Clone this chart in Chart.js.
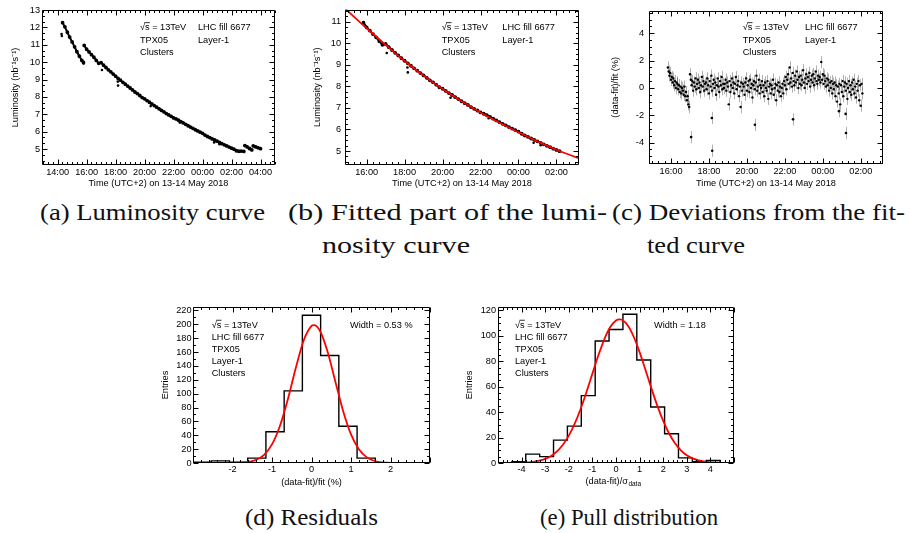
<!DOCTYPE html>
<html lang="en">
<head>
<meta charset="UTF-8">
<title>LHC fill 6677 luminosity</title>
<style>
  html, body { margin: 0; padding: 0; background: #fff; }
  body { position: relative; width: 910px; height: 533px; overflow: hidden; }
  canvas { position: absolute; }
  .cap { position: absolute; font-family: "Liberation Serif", "DejaVu Serif", serif; font-size: 23px; line-height: 24px;
         white-space: nowrap; transform-origin: 0 50%; color: #111; }
</style>
</head>
<body>
<canvas id="lumiCurve" width="285" height="195" style="left:0;top:0"></canvas>
<canvas id="lumiFit" width="289" height="195" style="left:300px;top:0"></canvas>
<canvas id="lumiDev" width="289" height="194" style="left:604px;top:0"></canvas>
<canvas id="residuals" width="292" height="196" style="left:148px;top:297px"></canvas>
<canvas id="pulls" width="291" height="196" style="left:453px;top:297px"></canvas>

<script src="https://cdn.jsdelivr.net/npm/chart.js"></script>
<script>
// ---- data (time in hours from 13 May 00:00, so 26 = 02:00 on the 14th) ----
const seg1Time = [14.34, 14.5, 14.67, 14.83, 15.0, 15.17, 15.33, 15.5, 15.67, 15.78];
const seg1Lumi = [12.27, 12.03, 11.72, 11.44, 11.16, 10.88, 10.6, 10.34, 10.1, 9.98];

// fitted range, one reading every 10 minutes from 15:50 to 02:10
const mainStart = 15 + 50 / 60;
const mainStep = 10 / 60;
const mainLumi = [10.96, 10.74, 10.59, 10.43, 10.28, 10.10, 9.93,
  9.97, 9.82, 9.69, 9.56, 9.44, 9.31,
  9.19, 9.07, 8.96, 8.84, 8.73, 8.62,
  8.51, 8.40, 8.28, 8.19, 8.08, 7.96,
  7.89, 7.79, 7.69, 7.60, 7.50, 7.41,
  7.31, 7.22, 7.14, 7.04, 6.96, 6.88,
  6.79, 6.73, 6.66, 6.58, 6.50, 6.42,
  6.34, 6.26, 6.19, 6.11, 6.04, 5.97,
  5.90, 5.80, 5.72, 5.66, 5.58, 5.52,
  5.45, 5.38, 5.31, 5.24, 5.18, 5.11,
  5.05, 4.99];
const mainTime = mainLumi.map((_, i) => mainStart + i * mainStep);

const tailTime = [26.33, 26.5, 26.67, 26.85];
const tailLumi = [4.9, 4.87, 4.88, 4.86];
const seg3Time = [26.92, 27.08, 27.24, 27.4];
const seg3Lumi = [5.2, 5.12, 5.03, 4.95];
const seg4Time = [27.5, 27.67, 27.84, 28.0];
const seg4Lumi = [5.18, 5.12, 5.07, 5.02];

const outTime = [17.06, 18.15, 18.17, 20.42, 22.43, 24.8, 25.17];
const outLumi = [9.55, 8.88, 8.65, 7.47, 6.52, 5.38, 5.27];
const earlyOutTime = [14.27, 14.29, 15.8];
const earlyOutLumi = [11.62, 11.5, 9.92];

const fitTime = [14.86, 16, 17, 18, 19, 20, 21, 22, 23, 24, 25, 26, 27.19];
const fitLumi = [11.62, 10.70, 9.93, 9.18, 8.50, 7.88, 7.31, 6.79, 6.31, 5.87, 5.45, 5.06, 4.66];

// deviations from the fit (%), one every 2.5 minutes from 15:50
const devStart = 15 + 50 / 60;
const devStep = 2.5 / 60;
const devValue = [
  1.5, 1.2, 0.9, 1.1, 0.6, 0.8, 0.4, 0.7, 0.2, 0.5, 0.0, 0.4, 0.3, -0.1, 0.2, -0.3, 0.1, -0.4, 0.0, -0.2, -0.5, 0.1, -0.6, -0.3,
  -0.9, -0.6, -1.2, -1.4, 1.0, 0.6, 0.2, 0.5, -0.2, 0.4, 0.1, 0.7, -0.1, 0.3, 0.6, 0.0, 0.4, -0.3, 0.2, 0.8, 0.1, 0.5, -0.2, 0.3,
  0.4, -0.1, 0.7, 0.2, -0.4, 0.5, 0.1, 0.9, -0.2, 0.3, 0.6, 0.0, 0.4, -0.5, 0.2, 0.7, 0.1, -0.3, 0.5, 0.2, 0.8, -0.1, 0.3, 0.0,
  0.3, 0.6, -0.2, 0.4, 0.1, -1.2, 0.5, -0.3, 0.2, 0.7, 0.0, 0.4, -0.4, 0.3, 0.8, -0.1, 0.2, 0.5, -0.6, 0.1, -1.4, 0.4, -0.2, 0.3,
  0.1, -0.5, 0.4, 0.7, -0.2, 0.2, 0.5, -0.3, 0.6, 0.0, 0.3, -0.7, 0.2, 0.5, -0.1, 0.4, 0.9, -0.2, 0.1, 0.6, -0.4, 0.2, 0.0, 0.5,
  -0.3, 0.2, -0.6, 0.4, 0.0, -0.2, 0.5, -0.8, 0.1, 0.3, -0.4, 0.2, -0.1, 0.6, -0.5, 0.0, 0.3, -0.9, 0.2, -0.2, 0.4, -0.3, 0.1, -0.6,
  0.0, 0.3, -0.4, 0.5, 0.2, 0.8, -0.1, 0.6, 1.0, 0.3, 1.5, 0.4, 0.7, 0.1, 1.1, 0.5, 0.2, 0.9, 0.4, 1.2, 0.6, 0.0, 0.8, 0.3,
  0.9, 0.2, 0.6, 1.3, 0.4, 0.0, 0.7, 1.0, 0.3, 0.8, 0.5, 1.1, 0.1, 0.6, 0.9, 0.4, 1.0, 0.2, 0.7, 1.2, 0.5, 0.3, 0.9, 0.6,
  0.8, 0.4, 1.9, 0.6, 1.0, 0.3, 0.9, 0.5, 0.1, 0.7, 0.2, 0.6, -0.2, 0.4, 0.0, 0.5, -0.4, 0.3, -0.1, 0.4, -0.6, 0.2, -1.0, 0.1,
  -0.4, 0.3, -1.2, 0.2, -0.3, 0.5, -0.6, 0.1, 0.4, -0.2, 0.3, -0.8, 0.0, 0.5, -0.3, 0.2, -0.5, 0.4, -0.1, 0.6, -0.4, 0.1, -0.7, 0.3,
  -0.2, 0.5, -0.9, 0.2, -1.3, 0.3, -0.4];
const devTime = devValue.map((_, i) => devStart + i * devStep);
const devOutTime = [17.06, 18.15, 18.17, 20.42, 22.43, 24.85, 25.2, 25.22];
const devOutValue = [-3.6, -2.2, -4.6, -2.7, -2.3, -1.7, -1.9, -3.3];
const devError = 0.45;

// residual histogram (%)
const resEdges = [-3, -2.538, -2.077, -1.615, -1.154, -0.692, -0.231, 0.231, 0.692, 1.154, 1.615, 2.077, 2.538, 3];
const resCounts = [1, 3, 1, 7, 45, 104, 213, 155, 53, 7, 0, 0, 0];
const resFitX = [-3, -2.4, -2.0, -1.8, -1.6, -1.4, -1.2, -1.0, -0.8, -0.6, -0.4, -0.2, 0.0, 0.06, 0.2, 0.4, 0.6, 0.8, 1.0, 1.2, 1.4, 1.6, 1.8, 2.0, 2.4, 3];
const resFitY = [0, 0.01, 0.1, 0.4, 1.5, 4.5, 11.8, 26.9, 53.4, 91.6, 136.6, 176.4, 197.7, 199, 192.2, 162.0, 118.4, 75.1, 41.3, 19.7, 8.1, 2.9, 0.9, 0.2, 0.01, 0];

// pull histogram
const pullEdges = [-5, -4.412, -3.824, -3.235, -2.647, -2.059, -1.471, -0.882, -0.294, 0.294, 0.882, 1.471, 2.059, 2.647, 3.235, 3.824, 4.412, 5];
const pullCounts = [0, 1, 7, 5, 18, 29, 53, 96, 105, 117, 81, 44, 23, 4, 1, 2, 0];
const pullFitX = [-5, -4.5, -4, -3.5, -3.25, -3, -2.75, -2.5, -2.25, -2, -1.75, -1.5, -1.25, -1, -0.75, -0.5, -0.25, 0, 0.15, 0.25, 0.5, 0.75, 1, 1.25, 1.5, 1.75, 2, 2.25, 2.5, 2.75, 3, 3.25, 3.5, 4, 4.5, 5];
const pullFitY = [0.01, 0.05, 0.23, 0.95, 1.78, 3.2, 5.5, 9.1, 14.3, 21.5, 30.9, 42.5, 55.9, 70.3, 84.5, 97.1, 106.7, 112.1, 113.0, 112.6, 108.1, 99.3, 87.2, 73.2, 58.7, 45.1, 33.1, 23.2, 15.6, 10.0, 6.1, 3.6, 2.0, 0.55, 0.13, 0.02];

// tick labels and texts
const curveTimeTicks = [14, 16, 18, 20, 22, 24, 26, 28];
const fitTimeTicks = [16, 18, 20, 22, 24, 26];
const curveLumiTicks = [5, 6, 7, 8, 9, 10, 11, 12, 13];
const fitLumiTicks = [5, 6, 7, 8, 9, 10, 11];
const devTicks = [-4, -2, 0, 2, 4];
const resTicksX = [-2, -1, 0, 1, 2];
const resTicksY = [0, 20, 40, 60, 80, 100, 120, 140, 160, 180, 200, 220];
const pullTicksX = [-4, -3, -2, -1, 0, 1, 2, 3, 4];
const pullTicksY = [0, 20, 40, 60, 80, 100, 120];
const infoLeft = ['√s = 13TeV', 'TPX05', 'Clusters'];
const infoRight = ['LHC fill 6677', 'Layer-1'];
const histInfo = ['√s = 13TeV', 'LHC fill 6677', 'TPX05', 'Layer-1', 'Clusters'];
const timeTitle = 'Time (UTC+2) on 13-14 May 2018';
const lumiTitle = 'Luminosity (nb⁻¹s⁻¹)';
const captionText = ['(a) Luminosity curve', '(b) Fitted part of the lumi-', 'nosity curve',
  '(c) Deviations from the fit-', 'ted curve', '(d) Residuals', '(e) Pull distribution'];
// left, middle y, width
const captionBox = [[40, 213, 225], [288, 213, 319], [322, 246, 148], [612, 213, 293], [647, 246, 98], [245, 518, 133], [540, 518, 178]];

// ---- drawing ----
const FONT = '"Liberation Sans", Arial, Helvetica, sans-serif';
Chart.defaults.font.family = FONT;
Chart.defaults.font.size = 9.2;
Chart.defaults.color = '#000';

const overlays = {};

// ROOT-like frame with inward ticks on every side, plus the text boxes
const rootFrame = {
  id: 'rootFrame',
  afterDraw(chart) {
    const o = overlays[chart.canvas.id];
    const { ctx, chartArea: a, scales: { x, y } } = chart;
    const L = Math.round(a.left) + 0.5, R = Math.round(a.right) - 0.5;
    const T = Math.round(a.top) + 0.5, B = Math.round(a.bottom) - 0.5;
    ctx.save();
    ctx.strokeStyle = '#000';
    ctx.lineWidth = 1;
    ctx.beginPath();
    ctx.rect(L, T, R - L, B - T);
    const ticks = (scale, major, minor, draw) => {
      const ratio = Math.round(major / minor);
      const k0 = Math.ceil(scale.min / minor - 1e-6), k1 = Math.floor(scale.max / minor + 1e-6);
      for (let k = k0; k <= k1; k++) {
        const p = Math.round(scale.getPixelForValue(k * minor)) + 0.5;
        draw(p, k % ratio === 0 ? 5 : 2.5);
      }
    };
    ticks(x, o.xMajor, o.xMinor, (p, len) => { ctx.moveTo(p, B); ctx.lineTo(p, B - len); ctx.moveTo(p, T); ctx.lineTo(p, T + len); });
    ticks(y, o.yMajor, o.yMinor, (p, len) => { ctx.moveTo(L, p); ctx.lineTo(L + len, p); ctx.moveTo(R, p); ctx.lineTo(R - len, p); });
    ctx.stroke();

    ctx.fillStyle = '#000';
    ctx.textBaseline = 'middle';
    ctx.textAlign = 'left';
    for (const t of o.texts) {
      ctx.font = `9.2px ${FONT}`;
      const w = ctx.measureText(t.text).width;
      let ws = 0;
      if (t.sub) { ctx.font = `6.5px ${FONT}`; ws = ctx.measureText(t.sub).width; ctx.font = `9.2px ${FONT}`; }
      const x0 = t.center ? t.x - (w + ws) / 2 : t.x;
      ctx.fillText(t.text, x0, t.y);
      if (t.text.startsWith('√')) {
        const wr = ctx.measureText('√').width, wsq = ctx.measureText('√s').width;
        ctx.fillRect(x0 + wr - 0.6, t.y - 5.2, wsq - wr + 0.8, 0.8);
      }
      if (t.sub) { ctx.font = `6.5px ${FONT}`; ctx.fillText(t.sub, x0 + w + 0.5, t.y + 3); }
    }
    ctx.restore();
  }
};

const errorBars = {
  id: 'errorBars',
  beforeDatasetsDraw(chart) {
    const o = overlays[chart.canvas.id];
    if (!o.errors) return;
    const { ctx, chartArea: a, scales: { x, y } } = chart;
    ctx.save();
    ctx.beginPath();
    ctx.rect(a.left, a.top, a.right - a.left, a.bottom - a.top);
    ctx.clip();
    ctx.strokeStyle = 'rgba(0,0,0,0.3)';
    ctx.lineWidth = 1;
    ctx.beginPath();
    for (const i of o.errors.sets) {
      for (const p of chart.data.datasets[i].data) {
        const px = Math.round(x.getPixelForValue(p.x)) + 0.5;
        ctx.moveTo(px, y.getPixelForValue(p.y + o.errors.size));
        ctx.lineTo(px, y.getPixelForValue(p.y - o.errors.size));
      }
    }
    ctx.stroke();
    ctx.restore();
  }
};

const pts = (xs, ys) => xs.map((x, i) => ({ x, y: ys[i] }));
const band = (xs, ys) => ({ data: pts(xs, ys), showLine: true, borderColor: '#000', backgroundColor: '#000', borderWidth: 2, pointRadius: 0.9, pointHoverRadius: 0 });
const dots = (xs, ys, r) => ({ data: pts(xs, ys), showLine: false, borderColor: '#000', backgroundColor: '#000', borderWidth: 0, pointRadius: r || 1.3 });
const redFit = (xs, ys) => ({ data: pts(xs, ys), showLine: true, borderColor: '#ff0000', borderWidth: 1.8, pointRadius: 0, cubicInterpolationMode: 'monotone' });
const histo = (edges, counts) => ({
  data: edges.map((e, i) => ({ x: e, y: counts[Math.min(i, counts.length - 1)] })),
  showLine: true, stepped: true, borderColor: '#000', borderWidth: 1.4, pointRadius: 0
});
const clock = v => String(((v % 24) + 24) % 24).padStart(2, '0') + ':00';

function rootChart(id, s) {
  overlays[id] = { xMajor: s.xMajor, xMinor: s.xMinor, yMajor: s.yMajor, yMinor: s.yMinor, texts: s.texts, errors: s.errors };
  const hidden = { display: false, drawTicks: false };
  return new Chart(document.getElementById(id), {
    type: 'scatter',
    data: { datasets: s.datasets },
    options: {
      responsive: false,
      animation: false,
      events: [],
      layout: { padding: { top: s.padTop, right: 10, bottom: 0, left: 0 } },
      plugins: { legend: { display: false }, tooltip: { enabled: false } },
      scales: {
        x: {
          type: 'linear', min: s.xMin, max: s.xMax,
          grid: hidden, border: { display: false },
          afterBuildTicks: sc => { sc.ticks = s.xTicks.map(v => ({ value: v })); },
          afterFit: sc => { sc.height = 30; },
          ticks: { autoSkip: false, maxRotation: 0, padding: s.xTickPad, callback: s.xLabel || (v => String(v)) },
          title: { display: !!s.xTitle, text: s.xTitle || '', padding: { top: 0, bottom: s.xTitlePad } }
        },
        y: {
          type: 'linear', min: s.yMin, max: s.yMax,
          grid: hidden, border: { display: false },
          afterBuildTicks: sc => { sc.ticks = s.yTicks.map(v => ({ value: v })); },
          afterFit: sc => { sc.width = s.yWidth; },
          ticks: { autoSkip: false, padding: s.yTickPad, callback: v => String(v) },
          title: { display: true, text: s.yTitle, padding: { top: s.yTitlePad, bottom: 0 } }
        }
      }
    },
    plugins: [errorBars, rootFrame]
  });
}

const infoTexts = (x1, x2) => [
  ...infoLeft.map((t, i) => ({ text: t, x: x1, y: 27.5 + 12.5 * i })),
  ...infoRight.map((t, i) => ({ text: t, x: x2, y: 27.5 + 12.5 * i }))
];
const histTexts = (x, wx, width) => [
  ...histInfo.map((t, i) => ({ text: t, x, y: 28 + 12.1 * i })),
  { text: width, x: wx, y: 28.5 }
];

rootChart('lumiCurve', {
  padTop: 10, yWidth: 42, xMin: 12.92, xMax: 29.0, yMin: 4.08, yMax: 13,
  xTicks: curveTimeTicks, yTicks: curveLumiTicks, xLabel: clock,
  xTickPad: 2, yTickPad: 2, xTitle: timeTitle, xTitlePad: 6.5, yTitle: lumiTitle, yTitlePad: 9.5,
  xMajor: 2, xMinor: 1 / 3, yMajor: 1, yMinor: 1 / 3,
  texts: infoTexts(140, 198),
  datasets: [
    band(seg1Time, seg1Lumi),
    band(mainTime.concat(tailTime), mainLumi.concat(tailLumi)),
    band(seg3Time, seg3Lumi),
    band(seg4Time, seg4Lumi),
    dots(outTime, outLumi),
    dots(earlyOutTime, earlyOutLumi)
  ]
});

rootChart('lumiFit', {
  padTop: 9, yWidth: 45, xMin: 14.86, xMax: 27.19, yMin: 4.35, yMax: 11.57,
  xTicks: fitTimeTicks, yTicks: fitLumiTicks, xLabel: clock,
  xTickPad: 2, yTickPad: 4, xTitle: timeTitle, xTitlePad: 6.5, yTitle: lumiTitle, yTitlePad: 12,
  xMajor: 2, xMinor: 1 / 3, yMajor: 1, yMinor: 0.25,
  texts: infoTexts(141.7, 202.3),
  datasets: [redFit(fitTime, fitLumi), band(mainTime, mainLumi), dots(outTime, outLumi)]
});

rootChart('lumiDev', {
  padTop: 9, yWidth: 45, xMin: 14.84, xMax: 27.17, yMin: -5.57, yMax: 5.67,
  xTicks: fitTimeTicks, yTicks: devTicks, xLabel: clock,
  xTickPad: 2, yTickPad: 5, xTitle: timeTitle, xTitlePad: 5.5, yTitle: '(data-fit)/fit (%)', yTitlePad: 5.5,
  xMajor: 2, xMinor: 1 / 3, yMajor: 2, yMinor: 0.5,
  texts: infoTexts(138.7, 201),
  errors: { sets: [0, 1], size: devError },
  datasets: [dots(devTime, devValue, 1.2), dots(devOutTime, devOutValue, 1.3)]
});

rootChart('residuals', {
  padTop: 10, yWidth: 45, xMin: -3, xMax: 3, yMin: 0, yMax: 225,
  xTicks: resTicksX, yTicks: resTicksY,
  xTickPad: 1, yTickPad: 1.5, xTitle: '(data-fit)/fit (%)', xTitlePad: 5.5, yTitle: 'Entries', yTitlePad: 12,
  xMajor: 1, xMinor: 0.2, yMajor: 20, yMinor: 10,
  texts: histTexts(63.7, 202, 'Width = 0.53 %'),
  datasets: [redFit(resFitX, resFitY), histo(resEdges, resCounts)]
});

rootChart('pulls', {
  padTop: 10, yWidth: 45, xMin: -5, xMax: 5, yMin: 0, yMax: 122.7,
  xTicks: pullTicksX, yTicks: pullTicksY,
  xTickPad: 1, yTickPad: 2, xTitle: '', xTitlePad: 0, yTitle: 'Entries', yTitlePad: 10.8,
  xMajor: 1, xMinor: 0.2, yMajor: 20, yMinor: 5,
  texts: histTexts(62, 201, 'Width = 1.18').concat([{ text: '(data-fit)/σ', sub: 'data', x: 160, y: 184, center: true }]),
  datasets: [redFit(pullFitX, pullFitY), histo(pullEdges, pullCounts)]
});

// sub-figure captions
captionText.forEach((text, i) => {
  const [left, mid, width] = captionBox[i];
  const el = document.createElement('div');
  el.className = 'cap';
  el.textContent = text;
  el.style.left = left + 'px';
  el.style.top = (mid - 12) + 'px';
  document.body.appendChild(el);
  el.style.transform = `scaleX(${width / el.getBoundingClientRect().width})`;
});
</script>
</body>
</html>
